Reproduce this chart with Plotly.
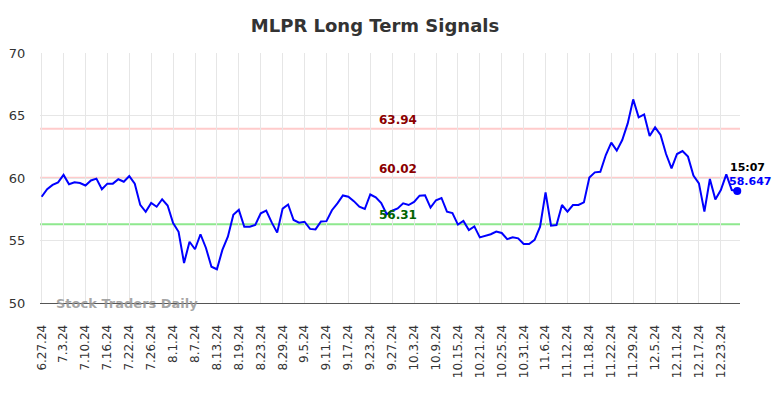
import plotly.graph_objects as go

dates = [
    "6.27.24", "6.28.24",
    "7.1.24", "7.2.24", "7.3.24", "7.5.24", "7.8.24", "7.9.24", "7.10.24", "7.11.24", "7.12.24",
    "7.15.24", "7.16.24", "7.17.24", "7.18.24", "7.19.24", "7.22.24", "7.23.24", "7.24.24",
    "7.25.24", "7.26.24", "7.29.24", "7.30.24", "7.31.24",
    "8.1.24", "8.2.24", "8.5.24", "8.6.24", "8.7.24", "8.8.24", "8.9.24", "8.12.24", "8.13.24",
    "8.14.24", "8.15.24", "8.16.24", "8.19.24", "8.20.24", "8.21.24", "8.22.24", "8.23.24",
    "8.26.24", "8.27.24", "8.28.24", "8.29.24", "8.30.24",
    "9.3.24", "9.4.24", "9.5.24", "9.6.24", "9.9.24", "9.10.24", "9.11.24", "9.12.24", "9.13.24",
    "9.16.24", "9.17.24", "9.18.24", "9.19.24", "9.20.24", "9.23.24", "9.24.24", "9.25.24",
    "9.26.24", "9.27.24", "9.30.24",
    "10.1.24", "10.2.24", "10.3.24", "10.4.24", "10.7.24", "10.8.24", "10.9.24", "10.10.24",
    "10.11.24", "10.14.24", "10.15.24", "10.16.24", "10.17.24", "10.18.24", "10.21.24",
    "10.22.24", "10.23.24", "10.24.24", "10.25.24", "10.28.24", "10.29.24", "10.30.24", "10.31.24",
    "11.1.24", "11.4.24", "11.5.24", "11.6.24", "11.7.24", "11.8.24", "11.11.24", "11.12.24",
    "11.13.24", "11.14.24", "11.15.24", "11.18.24", "11.19.24", "11.20.24", "11.21.24",
    "11.22.24", "11.25.24", "11.26.24", "11.27.24", "11.29.24",
    "12.2.24", "12.3.24", "12.4.24", "12.5.24", "12.6.24", "12.9.24", "12.10.24", "12.11.24",
    "12.12.24", "12.13.24", "12.16.24", "12.17.24", "12.18.24", "12.19.24", "12.20.24",
    "12.23.24", "12.24.24", "12.26.24", "12.27.24",
]

values = [
    58.5, 59.1, 59.45, 59.65, 60.25, 59.5, 59.65, 59.6, 59.4, 59.8,
    59.95, 59.1, 59.55, 59.55, 59.9, 59.7, 60.15, 59.55, 57.85, 57.3,
    58.0, 57.7, 58.3, 57.8, 56.4, 55.7, 53.2, 54.9, 54.3, 55.5,
    54.4, 52.9, 52.7, 54.25, 55.3, 57.05, 57.45, 56.1, 56.1, 56.25,
    57.18, 57.39, 56.45, 55.63, 57.55, 57.88, 56.64, 56.42, 56.5, 55.93,
    55.89, 56.52, 56.55, 57.42, 57.97, 58.6, 58.5, 58.15, 57.7, 57.52,
    58.68, 58.45, 58.0, 57.1, 57.38, 57.56, 57.97, 57.84, 58.09, 58.59,
    58.62, 57.63, 58.22, 58.4, 57.31, 57.2, 56.27, 56.56, 55.84, 56.13,
    55.25, 55.36, 55.5, 55.72, 55.6, 55.11, 55.25, 55.17, 54.72, 54.72,
    55.05, 56.1, 58.85, 56.19, 56.24, 57.84, 57.31, 57.84, 57.84, 58.05,
    60.03, 60.45, 60.5, 61.84, 62.83, 62.19, 63.04, 64.37, 66.29, 64.85,
    65.09, 63.36, 64.05, 63.44, 61.92, 60.77, 61.92, 62.16, 61.71, 60.19,
    59.57, 57.31, 59.92, 58.29, 59.04, 60.29, 59.04, 58.96,
]

tick_labels = dates[::4]

upper_levels = [63.94, 60.02]
lower_levels = [56.31]
last_time = "15:07"
last_label = "58.647"
title_text = "MLPR Long Term Signals"
watermark = "Stock Traders Daily"
y_ticks = [50, 55, 60, 65, 70]

FONT = "DejaVu Sans"
W, H = 776, 390  # page body has an 8px margin

fig = go.Figure()

fig.add_trace(go.Scatter(
    x=dates, y=values, mode="lines",
    line=dict(color="#0000ff", width=2),
    hoverinfo="skip", showlegend=False,
))
fig.add_trace(go.Scatter(
    x=[dates[-1]], y=[values[-1]], mode="markers",
    marker=dict(color="#0000ff", size=8),
    cliponaxis=False,
    hoverinfo="skip", showlegend=False,
))

shapes = []
annotations = []
label_x = dates[65]
for lv in upper_levels:
    shapes.append(dict(type="line", xref="paper", x0=0, x1=1, yref="y", y0=lv, y1=lv,
                       line=dict(color="rgba(255,190,190,0.8)", width=2), layer="below"))
    annotations.append(dict(x=label_x, y=lv, xref="x", yref="y", text="<b>%.2f</b>" % lv,
                            showarrow=False, xanchor="center", yanchor="bottom",
                            font=dict(family=FONT, size=12, color="#8b0000")))
for lv in lower_levels:
    shapes.append(dict(type="line", xref="paper", x0=0, x1=1, yref="y", y0=lv, y1=lv,
                       line=dict(color="rgba(130,230,130,0.9)", width=2), layer="below"))
    annotations.append(dict(x=label_x, y=lv, xref="x", yref="y", text="<b>%.2f</b>" % lv,
                            showarrow=False, xanchor="center", yanchor="bottom",
                            font=dict(family=FONT, size=12, color="#006400")))

annotations.append(dict(x=dates[-1], y=values[-1], xref="x", yref="y",
                        text="<b>%s</b>" % last_time, showarrow=False,
                        xanchor="left", yanchor="middle", xshift=-9, yshift=24,
                        font=dict(family=FONT, size=11, color="#000000")))
annotations.append(dict(x=dates[-1], y=values[-1], xref="x", yref="y",
                        text="<b>%s</b>" % last_label, showarrow=False,
                        xanchor="left", yanchor="middle", xshift=-10, yshift=10,
                        font=dict(family=FONT, size=11, color="#0000ff")))
annotations.append(dict(x=0.02, y=0, xref="paper", yref="paper",
                        text="<b>%s</b>" % watermark, showarrow=False,
                        xanchor="left", yanchor="middle",
                        font=dict(family=FONT, size=13, color="rgba(150,150,150,0.85)")))

fig.update_layout(
    width=W, height=H,
    margin=dict(l=32, r=44, t=45, b=95, autoexpand=False),
    paper_bgcolor="white", plot_bgcolor="white",
    title=dict(text="<b>%s</b>" % title_text, x=367 / W, xanchor="center",
               y=1 - 18 / H, yanchor="middle",
               font=dict(family=FONT, size=18, color="#333333")),
    font=dict(family=FONT, color="#333333"),
    shapes=shapes, annotations=annotations,
    showlegend=False,
)

fig.update_xaxes(
    type="category", categoryorder="array", categoryarray=dates,
    range=[-0.3, 127.5],
    tickmode="array", tickvals=tick_labels, ticktext=tick_labels,
    tickangle=-90, tickfont=dict(family=FONT, size=12, color="#333333"),
    ticks="outside", ticklen=8, tickcolor="rgba(0,0,0,0)",
    ticklabelstandoff=8,
    showgrid=True, gridcolor="#e6e6e6", gridwidth=1,
    showline=True, linecolor="#555555", linewidth=1,
    zeroline=False,
)
fig.update_yaxes(
    range=[50, 70], tickvals=y_ticks,
    tickfont=dict(family=FONT, size=13, color="#333333"),
    showgrid=True, gridcolor="#e6e6e6", gridwidth=1,
    zeroline=False, showline=False,
    ticks="outside", ticklen=11, tickcolor="rgba(0,0,0,0)",
)

fig.write_html("out.html")
